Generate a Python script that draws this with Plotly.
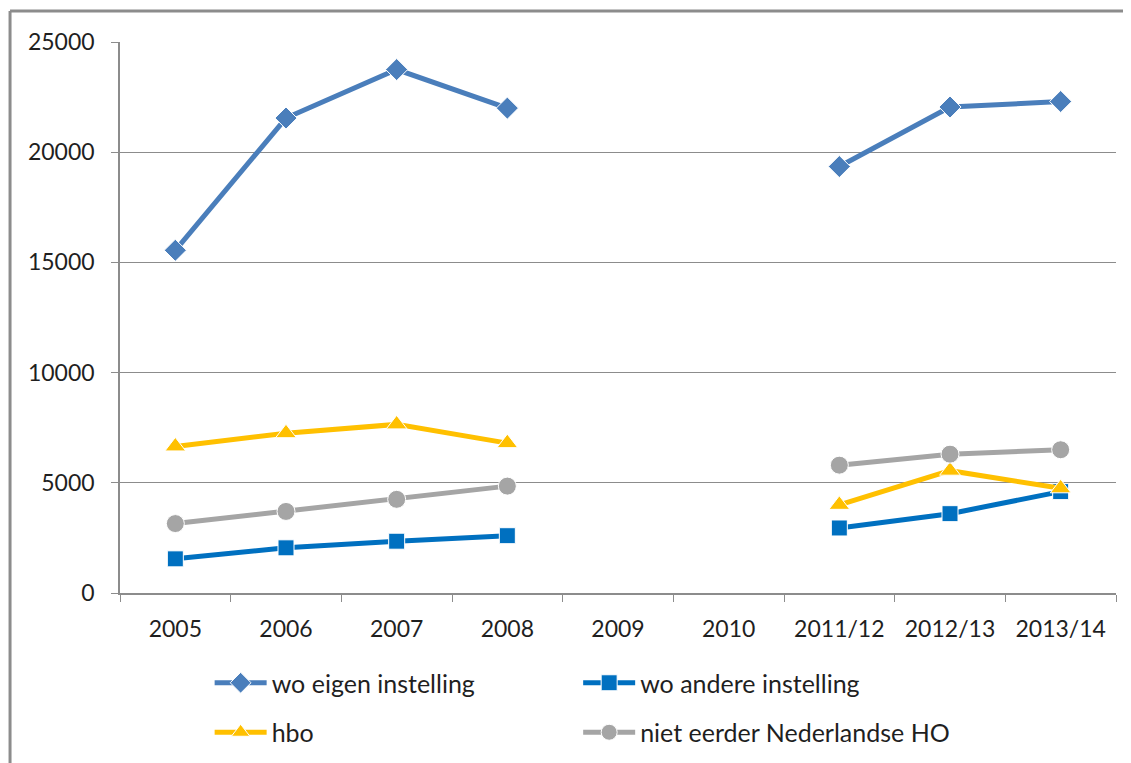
import plotly.graph_objects as go

# Categories on the x-axis (2009 and 2010 have no data)
years = ["2005", "2006", "2007", "2008", "2009", "2010", "2011/12", "2012/13", "2013/14"]

# Series values
wo_eigen = [15550, 21550, 23750, 22000, None, None, 19350, 22050, 22300]
wo_andere = [1550, 2050, 2350, 2600, None, None, 2950, 3600, 4600]
hbo = [6650, 7250, 7650, 6800, None, None, 4000, 5550, 4750]
niet_eerder = [3150, 3700, 4250, 4850, None, None, 5800, 6300, 6500]

FONT = "Lato"
TEXT = "#1f1f1f"
GRID = "#8c8c8c"

series = [
    ("wo eigen instelling", wo_eigen, "#4a7ebb", "diamond", 17, "legend"),
    ("wo andere instelling", wo_andere, "#0070c0", "square", 16, "legend2"),
    ("hbo", hbo, "#ffc000", "triangle-up", 18, "legend"),
    ("niet eerder Nederlandse HO", niet_eerder, "#a5a5a5", "circle", 18, "legend2"),
]

fig = go.Figure()
for i, (name, values, color, symbol, size, legend) in enumerate(series):
    fig.add_trace(
        go.Scatter(
            x=years,
            y=values,
            name=name,
            mode="lines+markers",
            connectgaps=False,
            line=dict(color=color, width=5),
            marker=dict(symbol=symbol, size=size, color=color,
                        line=dict(color="white", width=1)),
            legend=legend,
            legendgroup=f"g{i}",
        )
    )

legend_style = dict(
    orientation="v",
    yanchor="top",
    y=-0.1216,
    font=dict(family=FONT, size=25, color=TEXT),
    bgcolor="rgba(0,0,0,0)",
    tracegroupgap=14,
    itemwidth=52,
)

# The page puts the figure 8px in from the top-left corner, so margins are set for that
fig.update_layout(
    width=1131,
    height=763,
    paper_bgcolor="white",
    plot_bgcolor="white",
    margin=dict(l=112, r=23, t=34, b=178),
    font=dict(family=FONT, size=23, color=TEXT),
    showlegend=True,
    legend=dict(legend_style, x=0.090, xanchor="left"),
    legend2=dict(legend_style, x=0.460, xanchor="left"),
    xaxis=dict(
        type="category",
        range=[-0.5, 8.5],
        tickson="boundaries",
        ticks="outside",
        ticklen=7,
        tickcolor=GRID,
        showline=True,
        linecolor=GRID,
        linewidth=1.5,
        showgrid=False,
        ticklabelstandoff=15,
        tickfont=dict(family=FONT, size=23, color=TEXT),
    ),
    yaxis=dict(
        range=[0, 25000],
        dtick=5000,
        tickformat="d",
        ticks="outside",
        ticklen=7,
        tickcolor=GRID,
        showline=True,
        linecolor=GRID,
        linewidth=1.5,
        showgrid=True,
        gridcolor=GRID,
        gridwidth=1,
        zeroline=False,
        ticklabelstandoff=12,
        tickfont=dict(family=FONT, size=23, color=TEXT),
    ),
)

# Outer chart frame: only the left and top edges are visible in the picture
fig.add_shape(type="line", xref="paper", yref="paper",
              x0=-0.1104, x1=1.2, y0=1.0563, y1=1.0563,
              line=dict(color=GRID, width=3))
fig.add_shape(type="line", xref="paper", yref="paper",
              x0=-0.1104, x1=-0.1104, y0=1.0563, y1=-0.4,
              line=dict(color=GRID, width=3))

fig.write_html("out.html")
